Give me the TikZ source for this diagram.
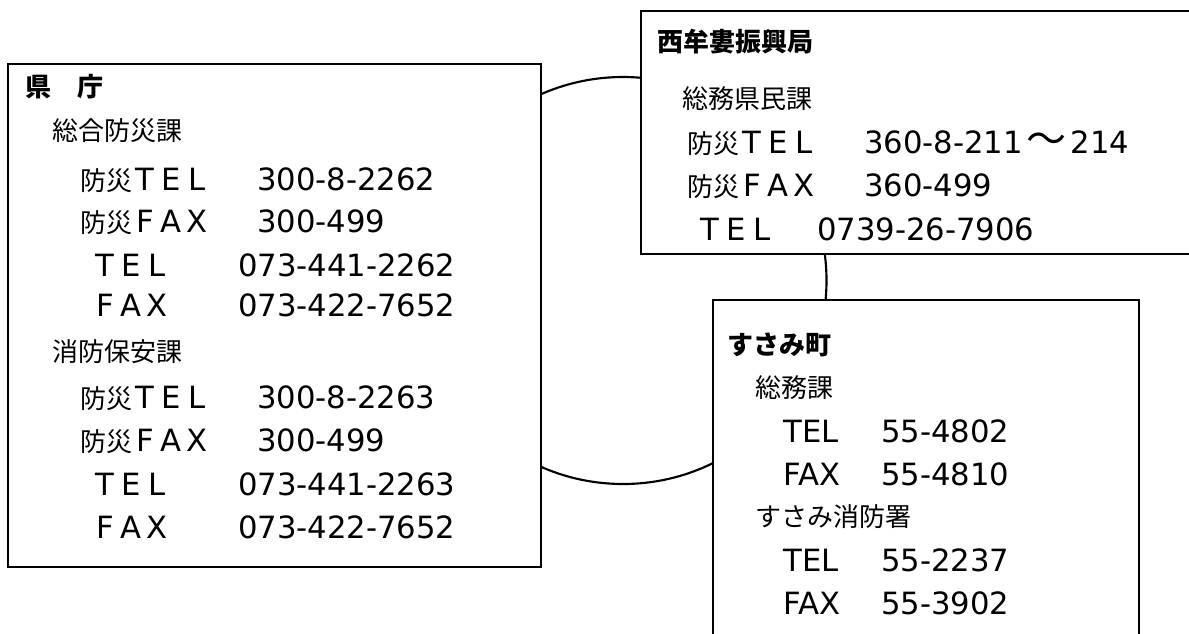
\documentclass[tikz,border=0pt]{standalone}
\usepackage{fontspec}
\setmainfont{Noto Sans CJK JP}
\newfontfamily\latfont{DejaVu Sans}
\usetikzlibrary{fit}
\newcommand\latn[1]{{\latfont\fontsize{23}{27}\selectfont #1}}
% full-width latin letter in a 26px cell
\newcommand\fw[1]{\makebox[19.5pt][c]{\latn{#1}}}
% prefix box: width given in pixels (1px = 0.75pt)
\newcommand\pfx[2]{\makebox[\dimexpr #1pt*3/4\relax][l]{#2}}
\tikzset{
  box/.style={draw, fill=white, line width=1pt, inner sep=0pt},
  conn/.style={line width=1.6pt},
  txt/.style={anchor=west, inner sep=0pt, font=\fontsize{19.5}{23}\selectfont},
  ttl/.style={anchor=west, inner sep=0pt, font=\fontsize{19.5}{23}\selectfont\bfseries},
}
\begin{document}
\begin{tikzpicture}[x=0.75pt, y=-0.75pt]
\useasboundingbox (0,0) rectangle (1189,633);
% connecting ring behind the boxes
\coordinate (ringc) at (623,280.5);
\draw[conn] (ringc) circle[radius=203.5];
% boxes
\node[box, fit={(8,64) (541,567)}] (ken) {};
\node[box, fit={(641,11) (1200,254)}] (sei) {};
\node[box, fit={(713,300) (1139,660)}] (sus) {};
% Prefecture
\node[ttl] (k0) at (25,87) {県　庁};
\node[txt] (k1) at (52,131) {総合防災課};
\node[txt] (k2) at (80,180) {\pfx{177}{防災\fw{T}\fw{E}\fw{L}}\latn{300-8-2262}};
\node[txt] (k3) at (80,222) {\pfx{177}{防災\fw{F}\fw{A}\fw{X}}\latn{300-499}};
\node[txt] (k4) at (92,265) {\pfx{146}{\fw{T}\fw{E}\fw{L}}\latn{073-441-2262}};
\node[txt] (k5) at (92,305) {\pfx{146}{\fw{F}\fw{A}\fw{X}}\latn{073-422-7652}};
\node[txt] (k6) at (52,352) {消防保安課};
\node[txt] (k7) at (80,398) {\pfx{177}{防災\fw{T}\fw{E}\fw{L}}\latn{300-8-2263}};
\node[txt] (k8) at (80,441) {\pfx{177}{防災\fw{F}\fw{A}\fw{X}}\latn{300-499}};
\node[txt] (k9) at (92,484) {\pfx{146}{\fw{T}\fw{E}\fw{L}}\latn{073-441-2263}};
\node[txt] (k10) at (92,527) {\pfx{146}{\fw{F}\fw{A}\fw{X}}\latn{073-422-7652}};
% Nishimuro
\node[ttl] (s0) at (657,42) {西牟婁振興局};
\node[txt] (s1) at (682,99) {総務県民課};
\node[txt] (s2) at (687,143) {\pfx{177}{防災\fw{T}\fw{E}\fw{L}}\latn{360-8-211}\makebox[36pt][c]{\fontsize{30}{30}\selectfont ～}\latn{214}};
\node[txt] (s3) at (687,186) {\pfx{177}{防災\fw{F}\fw{A}\fw{X}}\latn{360-499}};
\node[txt] (s4) at (697,229) {\pfx{120}{\fw{T}\fw{E}\fw{L}}\latn{0739-26-7906}};
% Susami
\node[ttl] (u0) at (727,345) {すさみ町};
\node[txt] (u1) at (755,388) {総務課};
\node[txt] (u2) at (783,431) {\pfx{98}{\latn{TEL}}\latn{55-4802}};
\node[txt] (u3) at (783,474) {\pfx{98}{\latn{FAX}}\latn{55-4810}};
\node[txt] (u4) at (755,517) {すさみ消防署};
\node[txt] (u5) at (783,560) {\pfx{98}{\latn{TEL}}\latn{55-2237}};
\node[txt] (u6) at (783,603) {\pfx{98}{\latn{FAX}}\latn{55-3902}};
\end{tikzpicture}
\end{document}
